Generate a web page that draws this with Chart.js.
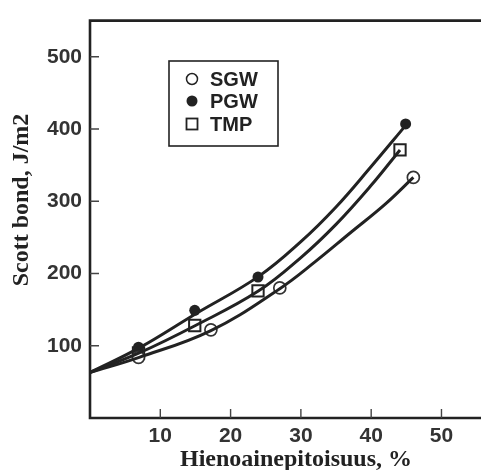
<!DOCTYPE html>
<html>
<head>
<meta charset="utf-8">
<script src="https://cdn.jsdelivr.net/npm/chart.js@4"></script>
<style>
  body { margin: 0; background: #fff; }
  #wrap { width: 481px; height: 470px; }
</style>
</head>
<body>
<div id="wrap"><canvas id="chart" width="481" height="470"></canvas></div>
<script>
// measured points
const sgwX = [6.9, 17.2, 27, 46];
const sgwY = [84, 122, 180, 333];
const pgwX = [6.9, 14.9, 23.9, 44.9];
const pgwY = [98, 149, 195, 407];
const tmpX = [6.9, 14.9, 23.9, 44.1];
const tmpY = [90, 128, 176, 371];

// fitted curves
const sgwCurveX = [0, 7, 17.2, 27, 32, 37, 42, 46];
const sgwCurveY = [63, 84, 121, 179, 216, 256, 296, 333];
const pgwCurveX = [0, 7, 15, 24, 30, 35, 40, 45];
const pgwCurveY = [63, 97, 144, 196, 244, 292, 348, 406];
const tmpCurveX = [0, 7, 15, 24, 30, 35, 40, 44.1];
const tmpCurveY = [63, 90, 128, 176, 222, 268, 322, 371];

const xTicks = [10, 20, 30, 40, 50];
const yTicks = [100, 200, 300, 400, 500];
const legendNames = ["SGW", "PGW", "TMP"];

const ink = "#222";
const pts = (xs, ys) => xs.map((x, i) => ({ x: x, y: ys[i] }));

function curve(xs, ys) {
  return {
    data: pts(xs, ys),
    showLine: true,
    borderColor: ink,
    borderWidth: 3,
    pointRadius: 0,
    tension: 0.4,
    fill: false,
  };
}

const frame = {
  id: "frame",
  afterDraw(chart) {
    const c = chart.ctx;
    const a = chart.chartArea;
    const xs = chart.scales.x;
    const ys = chart.scales.y;
    c.save();
    c.strokeStyle = ink;
    c.lineWidth = 2.6;
    c.beginPath();
    c.moveTo(chart.width, a.top);
    c.lineTo(a.left, a.top);
    c.lineTo(a.left, a.bottom);
    c.lineTo(chart.width, a.bottom);
    c.stroke();

    // inward ticks
    c.lineWidth = 1.4;
    c.strokeStyle = "#444";
    c.beginPath();
    yTicks.forEach((v) => {
      const y = ys.getPixelForValue(v);
      c.moveTo(a.left, y);
      c.lineTo(a.left + 9, y);
    });
    xTicks.forEach((v) => {
      const x = xs.getPixelForValue(v);
      c.moveTo(x, a.bottom);
      c.lineTo(x, a.bottom - 9);
    });
    c.stroke();

    // axis titles
    c.fillStyle = ink;
    c.font = "bold 24px 'Liberation Serif', serif";
    c.textAlign = "center";
    c.textBaseline = "middle";
    c.fillText("Hienoainepitoisuus, %", 296, 460);
    c.translate(22, 200);
    c.rotate(-Math.PI / 2);
    c.fillText("Scott bond, J/m2", 0, 0);
    c.restore();

    // legend box
    c.save();
    c.strokeStyle = ink;
    c.lineWidth = 1.6;
    c.strokeRect(169, 61, 109, 85);
    c.font = "bold 20px 'Liberation Sans', Arial, sans-serif";
    c.textAlign = "left";
    c.textBaseline = "middle";
    const rows = [79, 101, 124];
    rows.forEach((y, i) => {
      c.lineWidth = 1.5;
      c.strokeStyle = ink;
      c.fillStyle = ink;
      c.beginPath();
      if (i === 0) {
        c.arc(192, y, 5.5, 0, Math.PI * 2);
        c.fillStyle = "#fff";
        c.fill();
        c.stroke();
      } else if (i === 1) {
        c.arc(192, y, 5.5, 0, Math.PI * 2);
        c.fill();
      } else {
        c.lineWidth = 1.8;
        c.strokeRect(186.5, y - 5.5, 11, 11);
      }
      c.fillStyle = ink;
      c.fillText(legendNames[i], 210, y + 1);
    });
    c.restore();
  },
};

new Chart(document.getElementById("chart"), {
  type: "scatter",
  data: {
    datasets: [
      curve(sgwCurveX, sgwCurveY),
      curve(pgwCurveX, pgwCurveY),
      curve(tmpCurveX, tmpCurveY),
      {
        label: "SGW",
        data: pts(sgwX, sgwY),
        pointStyle: "circle",
        pointRadius: 6,
        pointBackgroundColor: "#fff",
        pointBorderColor: "#333",
        pointBorderWidth: 1.7,
      },
      {
        label: "PGW",
        data: pts(pgwX, pgwY),
        pointStyle: "circle",
        pointRadius: 5.5,
        pointBackgroundColor: ink,
        pointBorderColor: ink,
        pointBorderWidth: 0,
      },
      {
        label: "TMP",
        data: pts(tmpX, tmpY),
        pointStyle: "rect",
        pointRadius: 8,
        pointBackgroundColor: "#fff",
        pointBorderColor: ink,
        pointBorderWidth: 2,
      },
    ],
  },
  options: {
    responsive: false,
    animation: false,
    layout: { padding: { top: 15, right: 0, left: 0, bottom: 0 } },
    plugins: { legend: { display: false }, tooltip: { enabled: false } },
    scales: {
      x: {
        type: "linear",
        min: 0,
        max: 54.2,
        border: { display: false },
        grid: { display: false, drawTicks: false },
        afterBuildTicks: (s) => { s.ticks = xTicks.map((v) => ({ value: v })); },
        afterFit: (s) => { s.height = 52; },
        ticks: {
          padding: 6,
          color: "#333",
          font: { family: "'Liberation Sans', Arial, sans-serif", size: 21, weight: "bold" },
        },
      },
      y: {
        type: "linear",
        min: 0,
        max: 550,
        border: { display: false },
        grid: { display: false, drawTicks: false },
        afterBuildTicks: (s) => { s.ticks = yTicks.map((v) => ({ value: v })); },
        afterFit: (s) => { s.width = 90; },
        ticks: {
          padding: 8,
          color: "#333",
          font: { family: "'Liberation Sans', Arial, sans-serif", size: 21, weight: "bold" },
        },
      },
    },
  },
  plugins: [frame],
});
</script>
</body>
</html>
